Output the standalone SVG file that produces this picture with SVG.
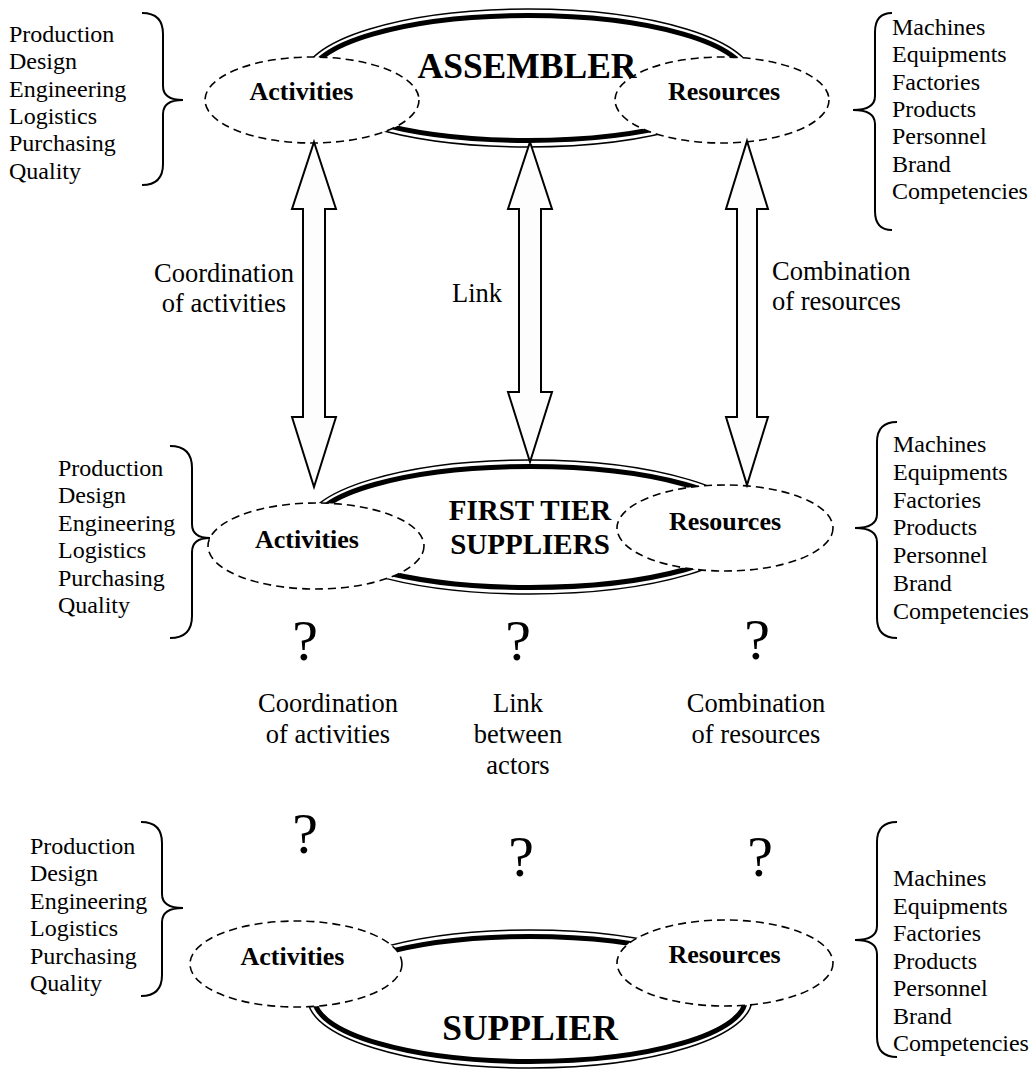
<svg xmlns="http://www.w3.org/2000/svg" width="1034" height="1073" viewBox="0 0 1034 1073">
<defs>
<style>
.bo{fill:none;stroke:#000;stroke-width:1.5}
.bi{fill:none;stroke:#000;stroke-width:5}
.dash{fill:#fff;stroke:#000;stroke-width:1.6;stroke-dasharray:8 5}
.t{font-family:"Liberation Serif","Times New Roman",serif;fill:#000}
.list{font-size:24px}
.lab{font-size:26.5px}
.nb{font-size:26px;font-weight:bold}
.big{font-size:35.5px;font-weight:bold}
.mid{font-size:29px;font-weight:bold}
.q{font-size:58px}
.brace{fill:none;stroke:#000;stroke-width:2}
.arrow{fill:#fdfdfd;stroke:#000;stroke-width:2;stroke-linejoin:miter}
</style>
</defs>
<rect width="1034" height="1073" fill="#fff"/>

<!-- ASSEMBLER level -->
<g id="assembler">
<ellipse class="bo" cx="528" cy="78" rx="225" ry="69"/>
<ellipse class="bi" cx="528" cy="78" rx="218.5" ry="62.5"/>
</g>
<g id="assembler-activities">
<ellipse class="dash" cx="312" cy="100" rx="107" ry="43"/>
<text class="t nb" x="301.5" y="100" text-anchor="middle">Activities</text>
</g>
<g id="assembler-resources">
<ellipse class="dash" cx="722" cy="100" rx="107" ry="43"/>
<text class="t nb" x="724" y="100" text-anchor="middle">Resources</text>
</g>
<g id="assembler-label">
<text class="t big" x="527" y="78" text-anchor="middle">ASSEMBLER</text>
</g>
<g id="assembler-activity-list">
<path class="brace" d="M142,13 Q163,13 163,34 L163,86 Q163,100 183,100 Q163,100 163,114 L163,164 Q163,185 142,185"/>
<text class="t list" x="9" y="42">Production</text>
<text class="t list" x="9" y="69.3">Design</text>
<text class="t list" x="9" y="96.6">Engineering</text>
<text class="t list" x="9" y="123.9">Logistics</text>
<text class="t list" x="9" y="151.2">Purchasing</text>
<text class="t list" x="9" y="178.5">Quality</text>
</g>
<g id="assembler-resource-list">
<path class="brace" d="M892,13 Q875,13 875,32 L875,96 Q875,110 853,110 Q875,110 875,124 L875,211 Q875,230 892,230"/>
<text class="t list" x="892" y="35">Machines</text>
<text class="t list" x="892" y="62.3">Equipments</text>
<text class="t list" x="892" y="89.6">Factories</text>
<text class="t list" x="892" y="116.9">Products</text>
<text class="t list" x="892" y="144.2">Personnel</text>
<text class="t list" x="892" y="171.5">Brand</text>
<text class="t list" x="892" y="198.8">Competencies</text>
</g>

<!-- FIRST TIER level -->
<g id="first-tier">
<ellipse class="bo" cx="530" cy="527" rx="225" ry="67"/>
<ellipse class="bi" cx="530" cy="527" rx="218.5" ry="60.5"/>
</g>
<g id="first-tier-activities">
<ellipse class="dash" cx="316" cy="546" rx="108" ry="43"/>
<text class="t nb" x="307" y="548" text-anchor="middle">Activities</text>
</g>
<g id="first-tier-resources">
<ellipse class="dash" cx="725" cy="528" rx="108" ry="43"/>
<text class="t nb" x="725" y="530" text-anchor="middle">Resources</text>
</g>
<g id="first-tier-label">
<text class="t mid" x="530" y="520" text-anchor="middle">FIRST TIER</text>
<text class="t mid" x="530" y="554" text-anchor="middle">SUPPLIERS</text>
</g>
<g id="first-tier-activity-list">
<path class="brace" d="M170,446 Q192,446 192,468 L192,524 Q192,538 210,538 Q192,538 192,552 L192,616 Q192,638 170,638"/>
<text class="t list" x="58" y="476">Production</text>
<text class="t list" x="58" y="503.4">Design</text>
<text class="t list" x="58" y="530.8">Engineering</text>
<text class="t list" x="58" y="558.2">Logistics</text>
<text class="t list" x="58" y="585.6">Purchasing</text>
<text class="t list" x="58" y="613">Quality</text>
</g>
<g id="first-tier-resource-list">
<path class="brace" d="M897,422 Q877,422 877,442 L877,514 Q877,528 855,528 Q877,528 877,542 L877,618 Q877,638 897,638"/>
<text class="t list" x="893" y="452">Machines</text>
<text class="t list" x="893" y="479.8">Equipments</text>
<text class="t list" x="893" y="507.6">Factories</text>
<text class="t list" x="893" y="535.4">Products</text>
<text class="t list" x="893" y="563.2">Personnel</text>
<text class="t list" x="893" y="591">Brand</text>
<text class="t list" x="893" y="618.8">Competencies</text>
</g>

<!-- SUPPLIER level -->
<g id="supplier">
<ellipse class="bo" cx="530" cy="999" rx="222" ry="69"/>
<ellipse class="bi" cx="530" cy="999" rx="215.5" ry="62.5"/>
</g>
<g id="supplier-activities">
<ellipse class="dash" cx="296" cy="964" rx="106" ry="43"/>
<text class="t nb" x="292.5" y="965" text-anchor="middle">Activities</text>
</g>
<g id="supplier-resources">
<ellipse class="dash" cx="725" cy="963" rx="108" ry="43"/>
<text class="t nb" x="724.5" y="963" text-anchor="middle">Resources</text>
</g>
<g id="supplier-label">
<text class="t big" x="530" y="1040" text-anchor="middle">SUPPLIER</text>
</g>
<g id="supplier-activity-list">
<path class="brace" d="M141,822 Q162,822 162,843 L162,894 Q162,908 183,908 Q162,908 162,922 L162,975 Q162,996 141,996"/>
<text class="t list" x="30" y="854">Production</text>
<text class="t list" x="30" y="881.4">Design</text>
<text class="t list" x="30" y="908.8">Engineering</text>
<text class="t list" x="30" y="936.2">Logistics</text>
<text class="t list" x="30" y="963.6">Purchasing</text>
<text class="t list" x="30" y="991">Quality</text>
</g>
<g id="supplier-resource-list">
<path class="brace" d="M897,822 Q877,822 877,842 L877,926 Q877,940 855,940 Q877,940 877,954 L877,1037 Q877,1057 897,1057"/>
<text class="t list" x="893" y="886">Machines</text>
<text class="t list" x="893" y="913.5">Equipments</text>
<text class="t list" x="893" y="941">Factories</text>
<text class="t list" x="893" y="968.5">Products</text>
<text class="t list" x="893" y="996">Personnel</text>
<text class="t list" x="893" y="1023.5">Brand</text>
<text class="t list" x="893" y="1051">Competencies</text>
</g>

<!-- Connectors -->
<g id="connectors">
<polygon class="arrow" points="314,142 336,209 325,209 325,417 336,417 314,487 292,417 303,417 303,209 292,209"/>
<polygon class="arrow" points="530,142 552,209 541,209 541,392 552,392 530,462 508,392 519,392 519,209 508,209"/>
<polygon class="arrow" points="747,141 768,209 757,209 757,417 768,417 747,485 726,417 737,417 737,209 726,209"/>
</g>

<!-- Connector labels -->
<g id="labels-top">
<text class="t lab" x="224" y="282" text-anchor="middle">Coordination</text>
<text class="t lab" x="224" y="312" text-anchor="middle">of activities</text>
<text class="t lab" x="452" y="302">Link</text>
<text class="t lab" x="772" y="280">Combination</text>
<text class="t lab" x="772" y="310">of resources</text>
</g>
<g id="labels-lower">
<text class="t q" x="305" y="660" text-anchor="middle">?</text>
<text class="t q" x="518" y="660" text-anchor="middle">?</text>
<text class="t q" x="757" y="659" text-anchor="middle">?</text>
<text class="t lab" x="328" y="712" text-anchor="middle">Coordination</text>
<text class="t lab" x="328" y="743" text-anchor="middle">of activities</text>
<text class="t lab" x="518" y="712" text-anchor="middle">Link</text>
<text class="t lab" x="518" y="743" text-anchor="middle">between</text>
<text class="t lab" x="518" y="774" text-anchor="middle">actors</text>
<text class="t lab" x="756" y="712" text-anchor="middle">Combination</text>
<text class="t lab" x="756" y="743" text-anchor="middle">of resources</text>
<text class="t q" x="305" y="853" text-anchor="middle">?</text>
<text class="t q" x="521" y="876" text-anchor="middle">?</text>
<text class="t q" x="760" y="876" text-anchor="middle">?</text>
</g>
</svg>
